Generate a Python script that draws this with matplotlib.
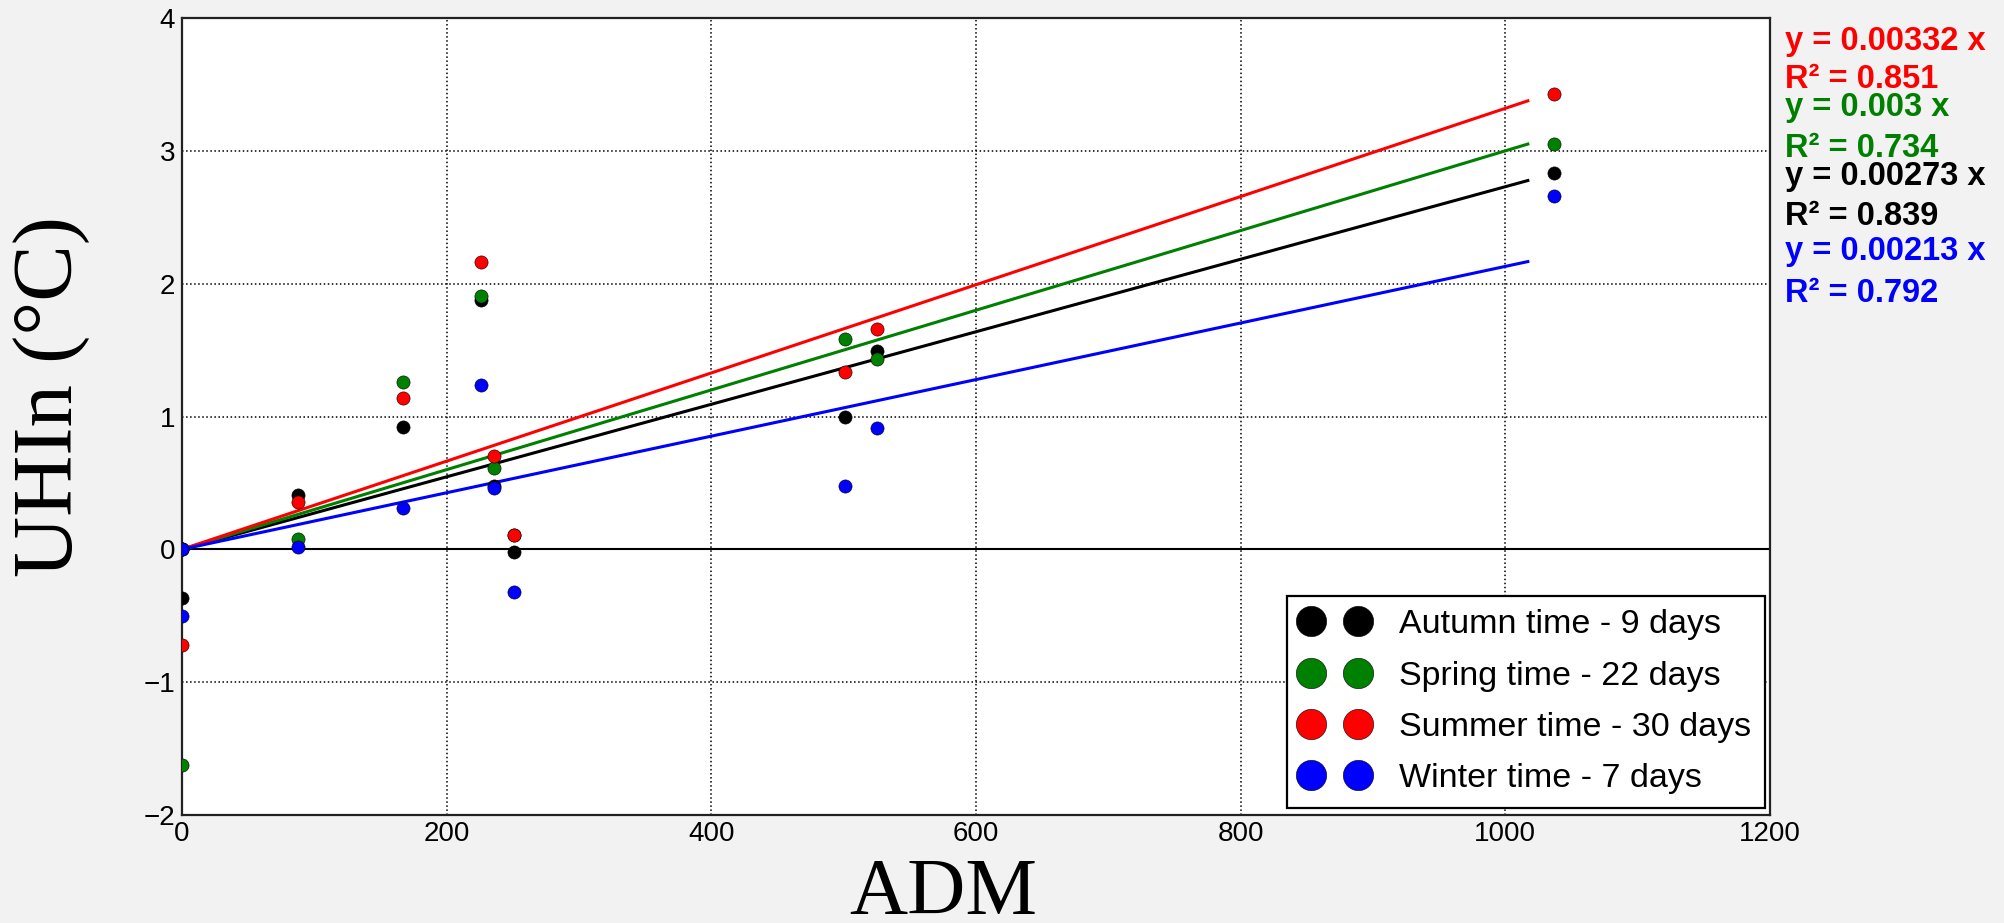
import matplotlib
matplotlib.use("Agg")
import matplotlib.pyplot as plt
import numpy as np

# ---------------- data ----------------
adm = [0, 0, 88, 167, 226, 236, 251, 501, 525, 1037]
autumn = [0, -0.37, 0.41, 0.92, 1.88, 0.48, -0.02, 1.00, 1.49, 2.83]
spring = [0, -1.62, 0.075, 1.26, 1.91, 0.61, 0.11, 1.58, 1.43, 3.05]
summer = [0, -0.72, 0.355, 1.14, 2.16, 0.70, 0.11, 1.335, 1.66, 3.43]
winter = [0, -0.50, 0.02, 0.31, 1.24, 0.46, -0.32, 0.48, 0.91, 2.66]

series_labels = ["Autumn time - 9 days", "Spring time - 22 days",
                 "Summer time - 30 days", "Winter time - 7 days"]
series_colors = ["#000000", "#008000", "#ff0000", "#0000ff"]
slopes = [0.00273, 0.003, 0.00332, 0.00213]
r2 = [0.839, 0.734, 0.851, 0.792]
fit_x = [0, 1017]

xticks = [0, 200, 400, 600, 800, 1000, 1200]
yticks = [-2, -1, 0, 1, 2, 3, 4]

W, H = 2004, 923
fig = plt.figure(figsize=(W / 100, H / 100), dpi=100, facecolor="#f2f2f2")
ax = fig.add_axes([182 / W, 1 - 815 / H, (1770 - 182) / W, (815 - 18) / H])
ax.set_facecolor("white")

sans = "Liberation Sans"
serif = "Liberation Serif"

# fit lines
for s, c in zip(slopes, series_colors):
    fx = np.array(fit_x, dtype=float)
    ax.plot(fx, s * fx, color=c, lw=2.2, zorder=3)

# points
for ys, c, lab in zip([autumn, spring, summer, winter], series_colors, series_labels):
    ax.plot(adm, ys, linestyle="none", marker="o", markersize=9.5,
            markerfacecolor=c, markeredgecolor="k", markeredgewidth=0.4,
            label=lab, zorder=4)

ax.axhline(0, color="k", lw=1.5, zorder=2)

ax.set_xlim(0, 1200)
ax.set_ylim(-2, 4)
ax.set_xticks(xticks)
ax.set_yticks(yticks)
ax.grid(True, color="k", linestyle=":", linewidth=1.1)
ax.tick_params(length=0, labelsize=20)
ax.tick_params(axis="x", pad=4)
ax.tick_params(axis="y", pad=5)
for lbl in ax.get_xticklabels() + ax.get_yticklabels():
    lbl.set_fontfamily(sans)
for sp in ax.spines.values():
    sp.set_linewidth(1.6)
    sp.set_color("#222222")

# axis labels
ax.set_xlabel("ADM", fontsize=58, fontfamily=serif, va="baseline")
ax.xaxis.set_label_coords((943 - 182) / (1770 - 182), (815 - 914) / (815 - 18))
ax.set_ylabel("UHIn (°C)", fontsize=61, fontfamily=serif, va="baseline",
              rotation_mode="anchor")
ax.yaxis.set_label_coords((72 - 182) / (1770 - 182), (815 - 396) / (815 - 18))

# legend
leg = ax.legend(loc="lower right", bbox_to_anchor=(1765 / W, 1 - 808 / H),
                bbox_transform=fig.transFigure, borderaxespad=0, numpoints=2,
                markerscale=2.3, prop={"family": sans, "size": 24.5},
                fancybox=False, framealpha=1, edgecolor="k",
                labelspacing=0.6, handlelength=2.0, handletextpad=0.9,
                borderpad=0.4)
leg.get_frame().set_linewidth(1.6)

# equation annotations on the right
order = [2, 1, 0, 3]  # red, green, black, blue
baselines = [50, 88, 116, 157, 185, 225, 260, 302]
k = 0
for i in order:
    fig.text(1785 / W, 1 - baselines[k] / H, f"y = {slopes[i]:g} x",
             color=series_colors[i], fontsize=23.5, fontweight="bold",
             fontfamily=sans, va="baseline", ha="left")
    k += 1
    fig.text(1785 / W, 1 - baselines[k] / H, f"R² = {r2[i]:g}",
             color=series_colors[i], fontsize=23.5, fontweight="bold",
             fontfamily=sans, va="baseline", ha="left")
    k += 1

fig.savefig("out.png", dpi=100, facecolor=fig.get_facecolor())
